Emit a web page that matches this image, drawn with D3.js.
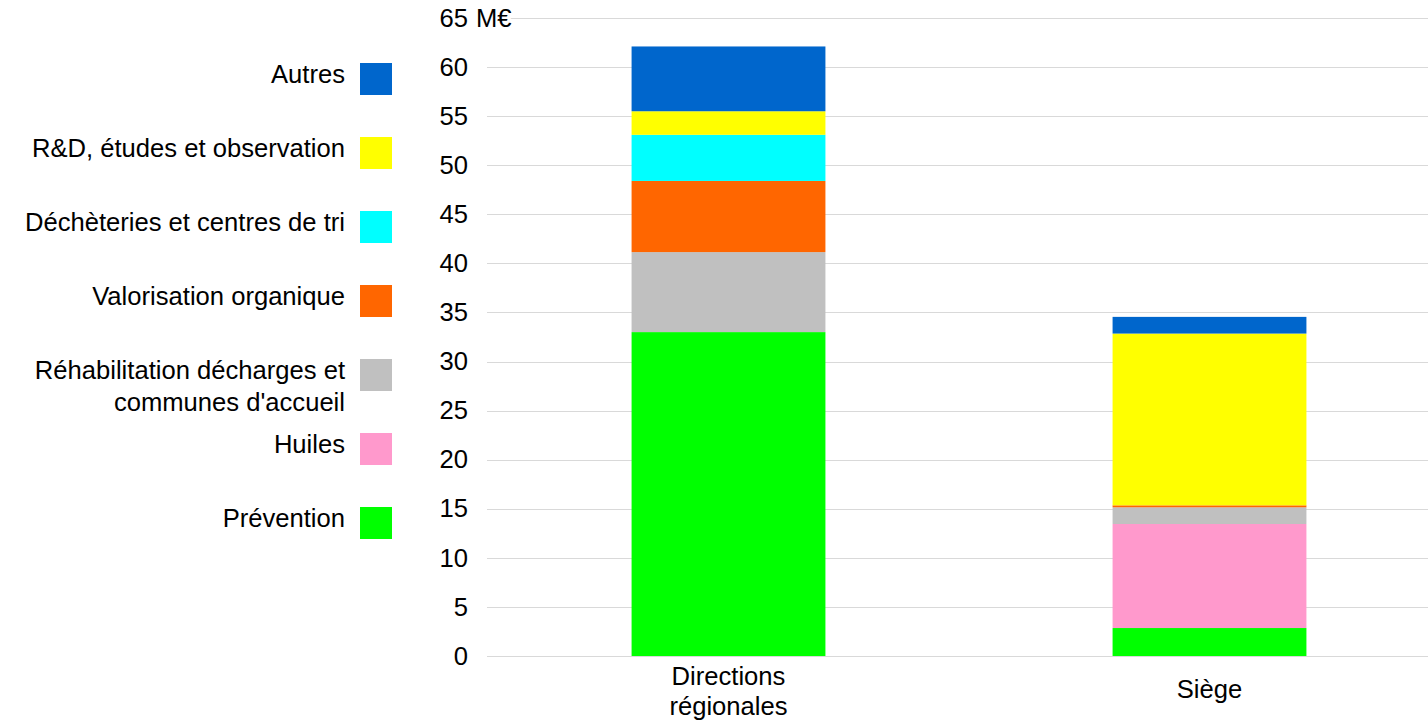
<!DOCTYPE html>
<meta charset="utf-8">
<script src="https://d3js.org/d3.v7.min.js"></script>
<style>
  body { margin: 0; background: #fff; }
  text { font-family: "Liberation Sans", Arial, sans-serif; fill: #000; }
</style>
<div id="chart"></div>
<script>
// categories (x axis)
var categories = ["Directions régionales", "Siège"];
// series, bottom to top in the stack
var series = ["Prévention", "Huiles", "Réhabilitation décharges et communes d'accueil",
  "Valorisation organique", "Déchèteries et centres de tri", "R&D, études et observation", "Autres"];
var colors = ["#00ff00", "#ff99cc", "#c0c0c0", "#ff6600", "#00ffff", "#ffff00", "#0066cc"];
// values in M€, one array per category, in series order
var dirRegionales = [33.0, 0, 8.15, 7.25, 4.7, 2.4, 6.6];
var siege = [2.85, 10.6, 1.7, 0.2, 0, 17.5, 1.7];
var yTicks = [0, 5, 10, 15, 20, 25, 30, 35, 40, 45, 50, 55, 60, 65];

var W = 1428, H = 724, FS = "25.6px";
var svg = d3.select("#chart").append("svg").attr("width", W).attr("height", H);

var y = d3.scaleLinear().domain([0, 65]).range([656, 18]);
var x = d3.scaleBand().domain(categories).range([488, 1450])
  .paddingInner(0.597).paddingOuter(0.2985);

// gridlines
svg.append("g").selectAll("line").data(yTicks).join("line")
  .attr("x1", 487).attr("x2", W)
  .attr("y1", d => Math.round(y(d)) + 0.5).attr("y2", d => Math.round(y(d)) + 0.5)
  .attr("stroke", "#d9d9d9").attr("stroke-width", 1);

// y axis labels
var yAxis = svg.append("g").attr("transform", "translate(468,0)")
  .call(d3.axisLeft(y).tickValues(yTicks).tickSize(0).tickPadding(0));
yAxis.select(".domain").remove();
yAxis.selectAll("text").style("font-size", FS).attr("fill", "#000")
  .style("font-family", "Liberation Sans, Arial, sans-serif");
svg.append("text").attr("x", 476).attr("y", y(65)).attr("dy", "0.34em")
  .style("font-size", FS).attr("stroke", "#fff").attr("stroke-width", 6)
  .attr("paint-order", "stroke").text("M€");

// stacked bars
var rows = categories.map(function(c, i) {
  var vals = i === 0 ? dirRegionales : siege;
  var r = { cat: c };
  series.forEach(function(s, j) { r[s] = vals[j]; });
  return r;
});
var stack = d3.stack().keys(series)(rows);
svg.append("g").selectAll("g").data(stack).join("g")
  .attr("fill", (d, i) => colors[i])
  .selectAll("rect").data(d => d).join("rect")
  .attr("x", d => x(d.data.cat))
  .attr("width", x.bandwidth())
  .attr("y", d => y(d[1]))
  .attr("height", d => y(d[0]) - y(d[1]));

// x labels
var cx0 = x(categories[0]) + x.bandwidth() / 2, cx1 = x(categories[1]) + x.bandwidth() / 2;
var t0 = svg.append("text").attr("text-anchor", "middle").style("font-size", FS);
t0.append("tspan").attr("x", cx0).attr("y", 685).text("Directions");
t0.append("tspan").attr("x", cx0).attr("y", 715).text("régionales");
svg.append("text").attr("x", cx1).attr("y", 698)
  .attr("text-anchor", "middle").style("font-size", FS).text("Siège");

// legend, top to bottom (reverse of stack order)
var legendLabels = [["Autres"], ["R&D, études et observation"], ["Déchèteries et centres de tri"],
  ["Valorisation organique"], ["Réhabilitation décharges et", "communes d'accueil"], ["Huiles"], ["Prévention"]];
var leg = svg.append("g");
legendLabels.forEach(function(lines, i) {
  var cy = 79 + i * 74;
  var col = colors[series.length - 1 - i];
  leg.append("rect").attr("x", 360).attr("y", cy - 16).attr("width", 32).attr("height", 32).attr("fill", col);
  var t = leg.append("text").attr("text-anchor", "end").style("font-size", FS);
  lines.forEach(function(l, k) {
    t.append("tspan").attr("x", 345).attr("y", cy + 4 + k * 32).text(l);
  });
});
</script>
